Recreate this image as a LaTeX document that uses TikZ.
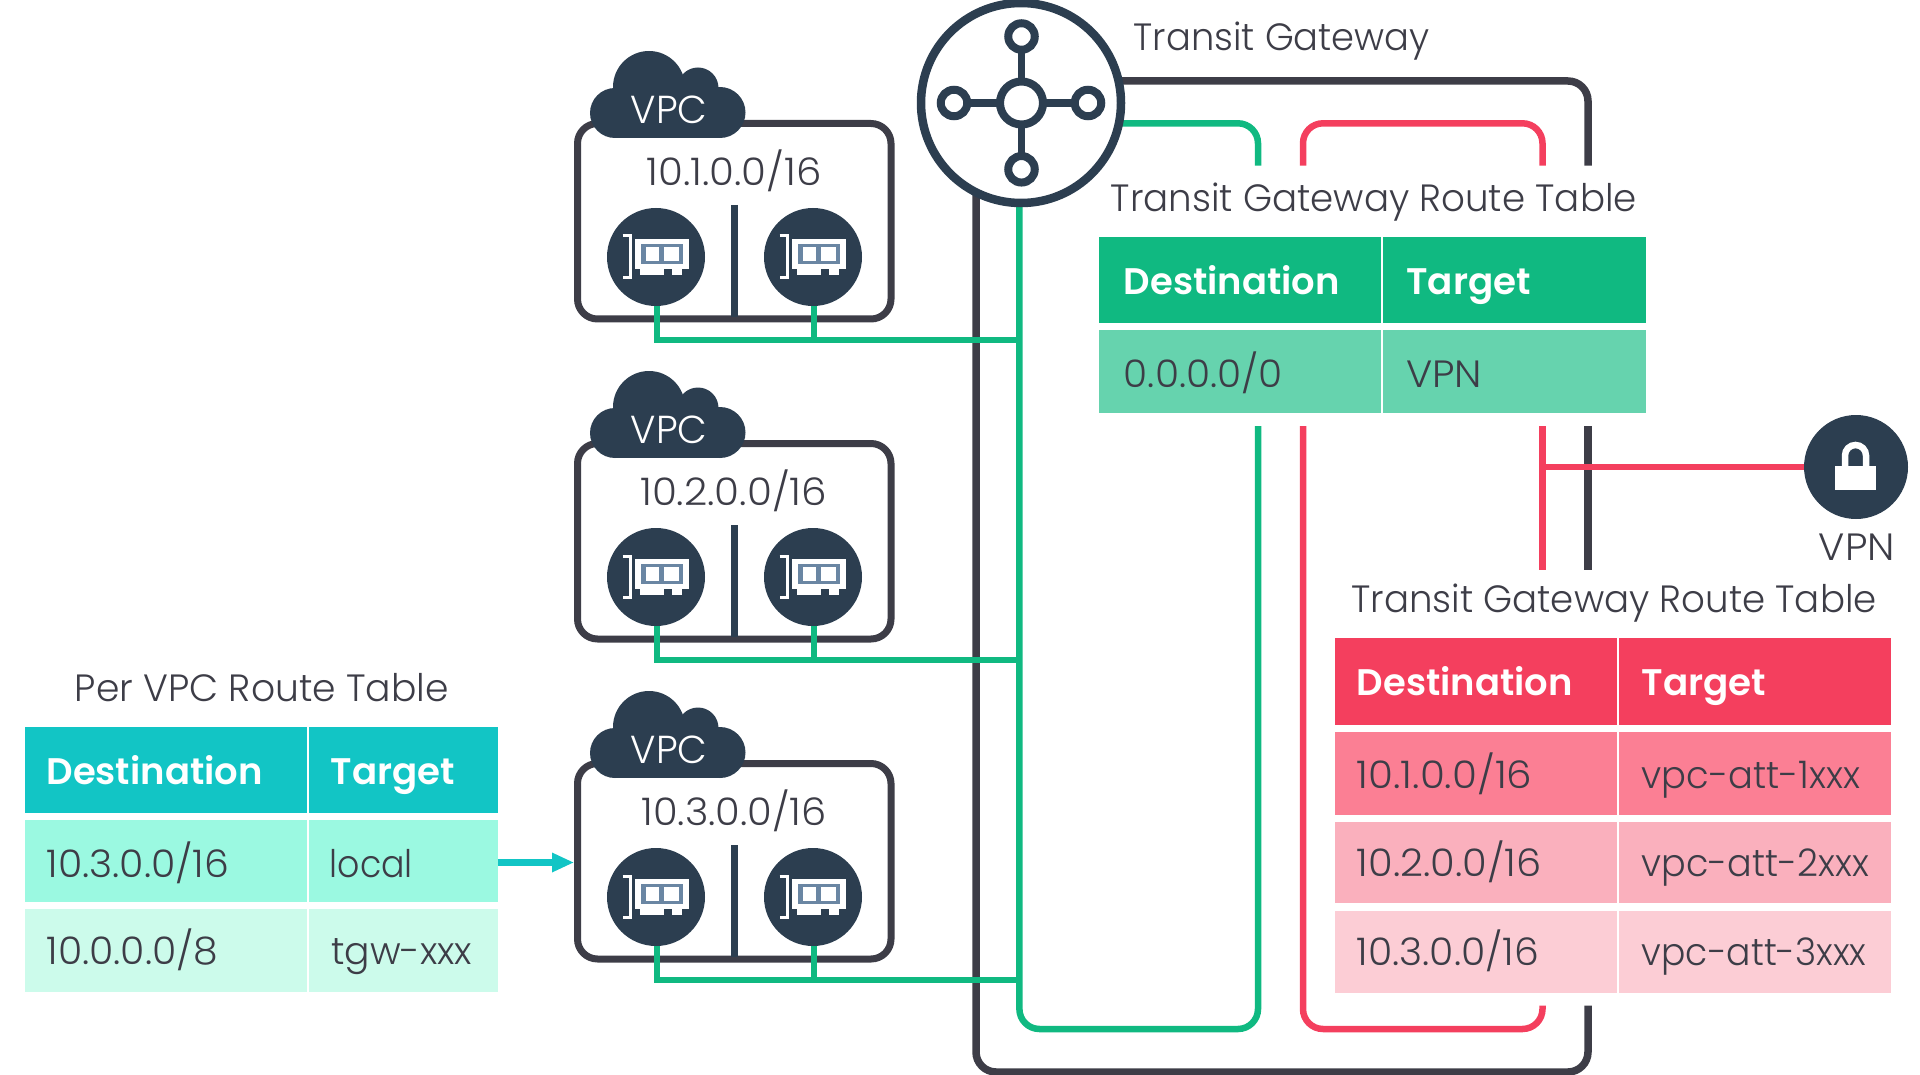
\documentclass[tikz,border=0pt]{standalone}
\usepackage{fontspec}
\usepackage{graphicx}
\setmainfont{Poppins}
\newfontfamily\ltf[UprightFont={* Light}]{Poppins}
\newfontfamily\bdf[UprightFont={* SemiBold}]{Poppins}
\definecolor{ink}{HTML}{3D3D47}
\definecolor{navy}{HTML}{2C3E50}
\definecolor{slate}{HTML}{6A86A3}
\definecolor{grn}{HTML}{10B981}
\definecolor{grnb}{HTML}{66D3AE}
\definecolor{pnk}{HTML}{F43F5E}
\definecolor{pnka}{HTML}{FB7F94}
\definecolor{pnkb}{HTML}{FAB0BD}
\definecolor{pnkc}{HTML}{FCCDD5}
\definecolor{tl}{HTML}{12C5C5}
\definecolor{tla}{HTML}{9BF9E1}
\definecolor{tlb}{HTML}{CCFBEB}
\newsavebox\tbx
\newcommand\lightt{\ltf\fontsize{38}{38}\selectfont\color{ink}}
\newcommand\boldw{\bdf\fontsize{37}{37}\selectfont\color{white}}
\newcommand\lightw{\ltf\fontsize{39}{39}\selectfont\color{white}}
\newcommand\tx[6]{\node[txt] (#1) at (#2-0.2,#3+0.5) {\sbox\tbx{#5#6}\pgfmathsetmacro\sxx{(#4+2)/\the\wd\tbx}\scalebox{\sxx}[1]{\usebox\tbx}};}
\tikzset{
  txt/.style={anchor=base west,inner sep=0pt,outer sep=0pt},
  frameline/.style={draw=ink,line width=7.5pt,rounded corners=20pt},
  gline/.style={draw=grn,line width=6.5pt,rounded corners=20pt},
  gthin/.style={draw=grn,line width=6.5pt},
  pline/.style={draw=pnk,line width=6.5pt,rounded corners=20pt},
  vbox/.style={draw=ink,line width=7pt,rounded corners=20pt,fill=white},
  enidot/.style={circle,fill=navy,minimum size=98pt,inner sep=0pt},
  hubring/.style={circle,draw=navy,line width=8pt,fill=white,inner sep=0pt},
  spoke/.style={draw=navy,line width=7.5pt},
  arrowshaft/.style={draw=tl,line width=7.3pt},
}
\newcommand\eni[3]{%
  \node[enidot] (#1) at (#2,#3) {};
  \begin{scope}[shift={(#2,#3)}]
    \draw[white,line width=3pt] (-33.3,-21) -- (-25.6,-21) -- (-25.6,20.5) -- (-33.3,20.5);
    \fill[white] (-21,-17.7) rectangle (33.3,12.3);
    \fill[white] (-16,12) rectangle (8,18);
    \fill[white] (15.7,12) rectangle (26.3,18);
    \fill[slate] (-15,-13) rectangle (27.3,7);
    \fill[white] (-10,-9.7) rectangle (3.3,3.7);
    \fill[white] (8,-9.7) rectangle (23.3,3.7);
  \end{scope}}
\newcommand\cloud[1]{%
  \fill[navy] (649,#1+87) circle (36);
  \fill[navy] (698,#1+88) circle (20.5);
  \fill[navy] (615,#1+113) circle (25);
  \fill[navy] (720,#1+112.5) circle (25.5);
  \fill[navy] (615,#1+88) rectangle (720,#1+138);}
\begin{document}
\begin{tikzpicture}[x=1pt,y=-1pt]
\useasboundingbox (0,0) rectangle (1920,1075);
% named anchors
\coordinate (fa) at (1000,81);
\coordinate (fb) at (1588,81);
\coordinate (fc) at (1588,165.7);
\coordinate (fd) at (1588,426);
\coordinate (fe) at (1588,570);
\coordinate (ff) at (1588,1005.6);
\coordinate (fg) at (1588,1072);
\coordinate (fh) at (976,1072);
\coordinate (fi) at (976,150);
\coordinate (ga) at (1100,123.3);
\coordinate (gb) at (1258,123.3);
\coordinate (gc) at (1258,165.7);
\coordinate (gd) at (1258,426);
\coordinate (ge) at (1258,1029);
\coordinate (gf) at (1019.4,1029);
\coordinate (gg) at (1019.4,190);
\coordinate (pa) at (1303,165.7);
\coordinate (pb) at (1303,123.3);
\coordinate (pc) at (1542.5,123.3);
\coordinate (pd) at (1542.5,165.7);
\coordinate (pe) at (1303,426);
\coordinate (pf) at (1303,1029);
\coordinate (pg) at (1542.5,1029);
\coordinate (ph) at (1542.5,1005.6);
\coordinate (pi) at (1542.5,426);
\coordinate (pj) at (1542.5,570);
\coordinate (pk) at (1542.5,467);
% frame
\draw[frameline] (fa) -- (fb) -- (fc);
\draw[frameline] (fd) -- (fe);
\draw[frameline] (ff) -- (fg) -- (fh) -- (fi);
% VPC boxes
\foreach \o in {0,320,640}{
  \draw[vbox] (577.5,\o+123.5) rectangle (891,\o+319);
  \draw[navy,line width=6.5pt] (734.3,\o+205) -- (734.3,\o+317);
  \cloud{\o}
}
% pink lines
\draw[pline] (pa) -- (pb) -- (pc) -- (pd);
\draw[pline] (pe) -- (pf) -- (pg) -- (ph);
\draw[pline] (pi) -- (pj);
% green lines
\draw[gline] (ga) -- (gb) -- (gc);
\draw[gline] (gg) -- (gf) -- (ge) -- (gd);
\foreach \o/\n in {0/a,320/b,640/c}{
  \coordinate (j\n) at (1019.4,\o+340);
  \coordinate (l\n) at (657,\o+257);
  \coordinate (r\n) at (814,\o+257);
  \draw[gthin] (l\n) |- (j\n);
  \draw[gthin] (r\n) -- (r\n |- j\n);
}
% ENIs
\eni{ea}{656}{257}\eni{eb}{813}{257}
\eni{ec}{656}{577}\eni{ed}{813}{577}
\eni{ee}{656}{897}\eni{ef}{813}{897}
% gateway
\node[hubring,line width=8.5pt,minimum size=200pt] (tgw) at (1021,103) {};
\draw[spoke] (1021.5,36.5) -- (1021.5,169.3);
\draw[spoke] (954,103) -- (1088,103);
\node[hubring,minimum size=43pt] (hub) at (1021.5,103) {};
\node[hubring,minimum size=26.5pt] (st) at (1021.5,36.5) {};
\node[hubring,minimum size=26.5pt] (sb) at (1021.5,169.3) {};
\node[hubring,minimum size=26.5pt] (sl) at (954,103) {};
\node[hubring,minimum size=26.5pt] (sr) at (1088,103) {};
% vpn
\node[circle,fill=navy,minimum size=104pt,inner sep=0pt] (vpn) at (1856,467) {};
\draw[pline] (pk) -- (vpn);
\draw[white,line width=6.5pt] (1845,468) -- (1845,455.5) arc[start angle=180,end angle=360,radius=10.5] -- (1866,468);
\fill[white] (1834.5,466) rectangle (1876,489.7);
% green table
\fill[grn] (1098.8,237) rectangle (1381,323.3);
\fill[grn] (1383,237) rectangle (1645.7,323.3);
\fill[grnb] (1098.8,330.3) rectangle (1381,412.7);
\fill[grnb] (1383,330.3) rectangle (1645.7,412.7);
% pink table
\fill[pnk] (1335,638.4) rectangle (1617,725.4);
\fill[pnk] (1619,638.4) rectangle (1891,725.4);
\fill[pnka] (1335,732.3) rectangle (1617,814.7);
\fill[pnka] (1619,732.3) rectangle (1891,814.7);
\fill[pnkb] (1335,821.6) rectangle (1617,903);
\fill[pnkb] (1619,821.6) rectangle (1891,903);
\fill[pnkc] (1335,910.8) rectangle (1617,992.7);
\fill[pnkc] (1619,910.8) rectangle (1891,992.7);
% teal table
\fill[tl] (25,726.7) rectangle (306.8,813);
\fill[tl] (308.8,726.7) rectangle (497.8,813);
\fill[tla] (25,820) rectangle (306.8,902);
\fill[tla] (308.8,820) rectangle (497.8,902);
\fill[tlb] (25,909) rectangle (306.8,991.7);
\fill[tlb] (308.8,909) rectangle (497.8,991.7);
% arrow
\coordinate (aa) at (497.8,862.5);
\coordinate (ab) at (553,862.5);
\draw[arrowshaft] (aa) -- (ab);
\fill[tl] (552,852.5) -- (573.3,862.5) -- (552,872.5) -- cycle;
% text
\tx{t01}{1134}{50}{294}{\lightt}{Transit Gateway}
\tx{t02}{1111}{210.7}{524}{\lightt}{Transit Gateway Route Table}
\tx{t03}{1124}{294.3}{214}{\boldw}{Destination}
\tx{t04}{1406.4}{294.3}{122.6}{\boldw}{Target}
\tx{t05}{1124}{386.7}{157}{\lightt}{0.0.0.0/0}
\tx{t06}{1406.4}{386.7}{74}{\lightt}{VPN}
\tx{t07}{1819}{559.5}{74}{\lightt}{VPN}
\tx{t08}{1351.5}{612}{523.5}{\lightt}{Transit Gateway Route Table}
\tx{t09}{1357}{695}{214}{\boldw}{Destination}
\tx{t10}{1642}{695}{122.6}{\boldw}{Target}
\tx{t11}{1357}{788}{173.5}{\lightt}{10.1.0.0/16}
\tx{t12}{1642}{788}{216.7}{\lightt}{vpc-att-1xxx}
\tx{t13}{1357}{876.3}{182.7}{\lightt}{10.2.0.0/16}
\tx{t14}{1642}{876.3}{225}{\lightt}{vpc-att-2xxx}
\tx{t15}{1357}{964.7}{180.4}{\lightt}{10.3.0.0/16}
\tx{t16}{1642}{964.7}{222.7}{\lightt}{vpc-att-3xxx}
\tx{t17}{75}{701}{372}{\lightt}{Per VPC Route Table}
\tx{t18}{46.7}{784.3}{214.3}{\boldw}{Destination}
\tx{t19}{331}{784.3}{122.2}{\boldw}{Target}
\tx{t20}{46.7}{876.7}{180.7}{\lightt}{10.3.0.0/16}
\tx{t21}{330}{876.7}{81}{\lightt}{local}
\tx{t22}{46.7}{964}{170}{\lightt}{10.0.0.0/8}
\tx{t23}{331.5}{964}{139}{\lightt}{tgw-xxx}
\tx{v1}{631}{123.3}{74.7}{\lightw}{VPC}
\tx{v2}{631}{443.3}{74.7}{\lightw}{VPC}
\tx{v3}{631}{763.3}{74.7}{\lightw}{VPC}
\tx{n1}{646.7}{185}{173}{\lightt}{10.1.0.0/16}
\tx{n2}{640.4}{505}{185}{\lightt}{10.2.0.0/16}
\tx{n3}{641.6}{825}{183.4}{\lightt}{10.3.0.0/16}
\end{tikzpicture}
\end{document}
